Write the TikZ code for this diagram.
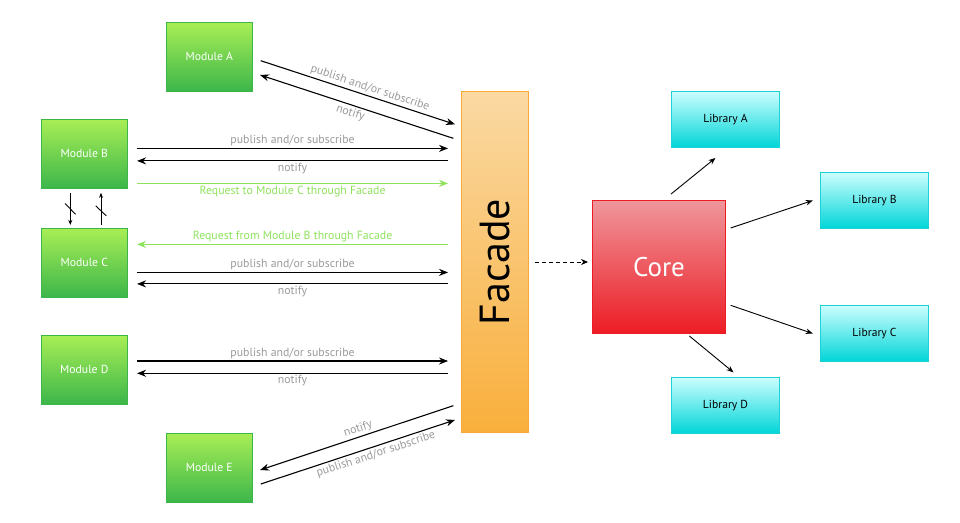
\documentclass[tikz,border=0pt]{standalone}
\usepackage{fontspec}
\setmainfont{PT Sans}
\usetikzlibrary{arrows.meta,calc}
\definecolor{modtop}{HTML}{A8EE55}
\definecolor{modbot}{HTML}{3CB64A}
\definecolor{modbd}{HTML}{3EB549}
\definecolor{factop}{HTML}{FAD9A3}
\definecolor{facbot}{HTML}{F9AF3B}
\definecolor{facbd}{HTML}{F7A934}
\definecolor{cortop}{HTML}{EE969B}
\definecolor{corbot}{HTML}{ED1C24}
\definecolor{libtop}{HTML}{CCFEFE}
\definecolor{libbot}{HTML}{00D5D8}
\definecolor{libbd}{HTML}{1CD2D6}
\definecolor{lblgray}{HTML}{9A9A9A}
\definecolor{reqgreen}{HTML}{8EE25C}
\tikzset{
  modbox/.style={rectangle, draw=modbd, line width=0.9pt, top color=modtop, bottom color=modbot,
    minimum width=86pt, minimum height=69pt, inner sep=0pt, text=white, font=\fontsize{11.7}{14}\selectfont},
  libbox/.style={rectangle, draw=libbd, line width=0.9pt, top color=libtop, bottom color=libbot,
    minimum width=108pt, minimum height=56pt, inner sep=0pt, text=black, font=\fontsize{11.6}{14}\selectfont},
  arr/.style={line width=1.1pt, -{Stealth[length=9pt,width=7pt]}},
  rarr/.style={line width=1.1pt, {Stealth[length=9pt,width=7pt]}-},
  sarr/.style={line width=0.9pt, -{Stealth[length=7pt,width=5.5pt]}},
  garr/.style={line width=1.1pt, draw=reqgreen, -{Stealth[length=9pt,width=7pt]}},
  grarr/.style={line width=1.1pt, draw=reqgreen, {Stealth[length=9pt,width=7pt]}-},
  lbl/.style={text=lblgray, font=\fontsize{11.8}{14}\selectfont, inner sep=1pt},
  glbl/.style={text=reqgreen, font=\fontsize{11.8}{14}\selectfont, inner sep=1pt},
}
\begin{document}
\begin{tikzpicture}[x=1pt,y=-1pt]
\useasboundingbox (0,0) rectangle (960,522);
% modules
\node[modbox] (ma) at (209.3,56.8) {Module A};
\node[modbox] (mb) at (84.3,153.9) {Module B};
\node[modbox] (mc) at (84.3,262.9) {Module C};
\node[modbox] (md) at (84.3,369.7) {Module D};
\node[modbox] (me) at (209.3,467.9) {Module E};
% facade
\node[rectangle, draw=facbd, line width=0.9pt, top color=factop, bottom color=facbot,
  minimum width=67pt, minimum height=341pt, inner sep=0pt] (fac) at (495,262) {};
\node[rotate=90, font=\fontsize{42}{46}\selectfont, text=black] (factxt) at (fac.center) {Facade};
% core
\node[rectangle, draw=corbot, line width=0.9pt, top color=cortop, bottom color=corbot,
  minimum width=133pt, minimum height=133pt, inner sep=0pt, text=white,
  font=\fontsize{27}{30}\selectfont] (core) at (659,267) {Core};
% libraries
\node[libbox] (la) at (725.5,119.5) {Library A};
\node[libbox] (lb) at (874.5,200.5) {Library B};
\node[libbox] (lc) at (874.5,333.5) {Library C};
\node[libbox] (ld) at (725.5,405.5) {Library D};

% Module A
\draw[arr] ([shift={(8,3.9)}]ma.east) -- node[lbl, sloped, above=1pt, pos=0.55] {publish and/or subscribe} ([shift={(-6,33.3)}]fac.north west);
\draw[rarr] ([shift={(7.3,18.2)}]ma.east) -- node[lbl, sloped, below=1pt, pos=0.48] {notify} ([shift={(-7.7,47.3)}]fac.north west);

% Module B
\draw[arr] ([shift={(9.3,-5.5)}]mb.east) -- node[lbl, above=0.5pt] {publish and/or subscribe} ([shift={(-13,-5.5)}]fac.west |- mb.east);
\draw[rarr] ([shift={(9.3,7)}]mb.east) -- node[lbl, below=0.5pt] {notify} ([shift={(-13,7)}]fac.west |- mb.east);
\draw[garr] ([shift={(9.3,29.5)}]mb.east) -- node[glbl, below=1pt] {Request to Module C through Facade} ([shift={(-13,29.5)}]fac.west |- mb.east);

% Module C
\draw[grarr] ([shift={(9.3,-18.5)}]mc.east) -- node[glbl, above=1pt] {Request from Module B through Facade} ([shift={(-13,-18.5)}]fac.west |- mc.east);
\draw[arr] ([shift={(9.3,9.5)}]mc.east) -- node[lbl, above=0.5pt] {publish and/or subscribe} ([shift={(-13,9.5)}]fac.west |- mc.east);
\draw[rarr] ([shift={(9.3,21)}]mc.east) -- node[lbl, below=0.5pt] {notify} ([shift={(-13,21)}]fac.west |- mc.east);

% Module D
\draw[arr] ([shift={(9.3,-8.7)}]md.east) -- node[lbl, above=0.5pt] {publish and/or subscribe} ([shift={(-13,-8.7)}]fac.west |- md.east);
\draw[rarr] ([shift={(9.3,3.6)}]md.east) -- node[lbl, below=0.5pt] {notify} ([shift={(-13,3.6)}]fac.west |- md.east);

% Module E
\draw[rarr] ([shift={(7.3,2.1)}]me.east) -- node[lbl, sloped, above=1pt, pos=0.52] {notify} ([shift={(-7.7,-27.3)}]fac.south west);
\draw[arr] ([shift={(8,16.1)}]me.east) -- node[lbl, sloped, below=1pt, pos=0.58] {publish and/or subscribe} ([shift={(-6,-13)}]fac.south west);

% B <-> C
\draw[line width=0.9pt, -{Stealth[length=5pt,width=4pt]}] ([shift={(-14,4)}]mb.south) -- coordinate[pos=0.5] (s1) ([shift={(-14,-3)}]mc.north);
\draw[line width=0.9pt, {Stealth[length=5pt,width=4pt]}-] ([shift={(16.7,4)}]mb.south) -- coordinate[pos=0.56] (s2) ([shift={(16.7,-3)}]mc.north);
\draw[line width=0.9pt] ([shift={(-5.3,-5.4)}]s1) -- ([shift={(5.3,5.4)}]s1);
\draw[line width=0.9pt] ([shift={(-5.3,-5)}]s2) -- ([shift={(5.3,5)}]s2);

% Facade -> Core
\draw[line width=0.9pt, dashed, dash pattern=on 4pt off 3pt, -{Stealth[length=7pt,width=6pt]}] ([xshift=6]fac.east) -- ([xshift=-4]core.west |- fac.east);

% Core -> Libraries
\draw[sarr] ([shift={(12,-6)}]core.north) -- ([shift={(-10,10)}]la.south);
\draw[sarr] ([shift={(4.7,-39)}]core.east) -- ([xshift=-7.3]lb.west);
\draw[sarr] ([shift={(4.7,38.3)}]core.east) -- ([xshift=-7.3]lc.west);
\draw[sarr] ([shift={(30.3,2)}]core.south) -- ([shift={(8,-4.7)}]ld.north);
\end{tikzpicture}
\end{document}
